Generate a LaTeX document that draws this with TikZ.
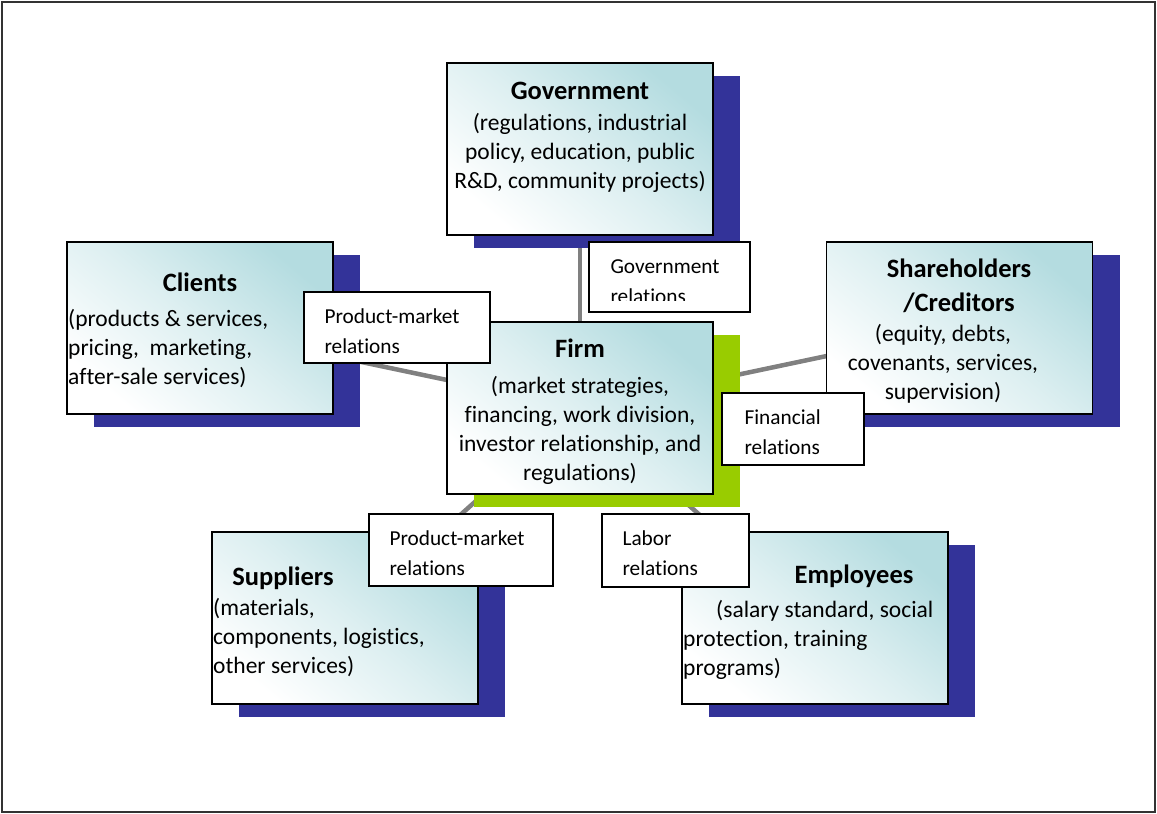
\documentclass[tikz,border=0pt]{standalone}
\usepackage{fontspec}
\setmainfont{Carlito}[Ligatures=NoCommon]
\usetikzlibrary{shadows,backgrounds}
\definecolor{boxteal}{RGB}{180,220,224}
\definecolor{shadowblue}{RGB}{51,51,153}
\definecolor{firmgreen}{RGB}{153,204,0}
\definecolor{linkgray}{RGB}{128,128,128}
\newcommand\titlesize{\fontsize{26.5}{34}\selectfont\bfseries}
\newcommand\bodysize{\fontsize{23.5}{29.3}\selectfont}
\newcommand\relsize{\fontsize{21.3}{30}\selectfont}

\begin{document}
\begin{tikzpicture}
    [ x=1pt, y=-1pt,
      actor/.style={draw, line width=1.6pt, minimum width=266pt, minimum height=172pt,
        top color=boxteal, bottom color=white, middle color=boxteal!45, shading angle=-40,
        drop shadow={shadow xshift=27pt, shadow yshift=-13pt, fill=#1, opacity=1}},
      actor/.default=shadowblue,
      title/.style={font=\titlesize, inner sep=0pt, align=center, anchor=base},
      body/.style={font=\bodysize, inner sep=0pt},
      relation/.style={draw, line width=1.3pt, fill=white},
      reltext/.style={font=\relsize, inner sep=0pt, align=left, anchor=base west},
      link/.style={draw=linkgray, line width=4.5pt},
    ]
    \useasboundingbox (0,0) rectangle (1157,814);
    \draw[line width=1.2pt, black!80] (2,2) rectangle (1155,812);

    % the six actors
    \node[actor] (gov) at (580,149) {};
    \node[actor=firmgreen] (firm) at (580,408) {};
    \node[actor] (clients) at (200,328) {};
    \node[actor] (share) at (959.5,328) {};
    \node[actor] (supp) at (345,618) {};
    \node[actor] (empl) at (815,618) {};

    % multi-line texts sit on the baseline of their last line
    \node[title] (gov-t) at (580,99) {Government};
    \node[body, align=center, anchor=base] (gov-b) at (580,188.6)
        {(regulations, industrial\\policy, education, public\\R\&D, community projects)};
    \node[title] (firm-t) at (580,357) {Firm};
    \node[body, align=center, anchor=base] (firm-b) at (580,480.9)
        {(market strategies,\\financing, work division,\\investor relationship, and\\regulations)};
    \node[title] (clients-t) at (200,291) {Clients};
    \node[body, align=left, anchor=base west] (clients-b) at (68,384.6)
        {(products \& services,\\pricing,~ marketing,\\after-sale services)};
    \node[title] (share-t) at (959,311) {Shareholders\\/Creditors};
    \node[body, align=center, anchor=base] (share-b) at (943,399.6)
        {(equity, debts,\\covenants, services,\\supervision)};
    \node[title] (supp-t) at (283,585) {Suppliers};
    \node[body, align=left, anchor=base west] (supp-b) at (213,673.6)
        {(materials,\\components, logistics,\\other services)};
    \node[title] (empl-t) at (854,583) {Employees};
    \node[body, align=left, anchor=base west] (empl-b) at (683,675.6)
        {\hspace*{33pt}(salary standard, social\\protection, training\\programs)};

    \begin{scope}[on background layer]
        \foreach \other in {gov, clients, share, supp, empl}
            \draw[link] (firm.center) -- (\other.center);
    \end{scope}

    % relation labels
    \node[relation, minimum width=161pt, minimum height=70pt] (govrel) at (669.5,277) {};
    \begin{scope}
        \clip (govrel.north west) rectangle ([yshift=12pt]govrel.south east);
        \node[reltext] (govrel-t) at ([shift={(22,62)}]govrel.north west) {Government\\relations};
    \end{scope}
    \node[relation, minimum width=186pt, minimum height=71pt] (pmrel) at (397,327.5) {};
    \node[reltext] (pmrel-t) at ([shift={(21,62)}]pmrel.north west) {Product-market\\relations};
    \node[relation, minimum width=142pt, minimum height=72pt] (finrel) at (793,429) {};
    \node[reltext] (finrel-t) at ([shift={(23,62)}]finrel.north west) {Financial\\relations};
    \node[relation, minimum width=184pt, minimum height=72pt] (supprel) at (461,550) {};
    \node[reltext] (supprel-t) at ([shift={(21,62)}]supprel.north west) {Product-market\\relations};
    \node[relation, minimum width=147pt, minimum height=73pt] (labrel) at (675.5,550.5) {};
    \node[reltext] (labrel-t) at ([shift={(21,62)}]labrel.north west) {Labor\\relations};
\end{tikzpicture}
\end{document}
